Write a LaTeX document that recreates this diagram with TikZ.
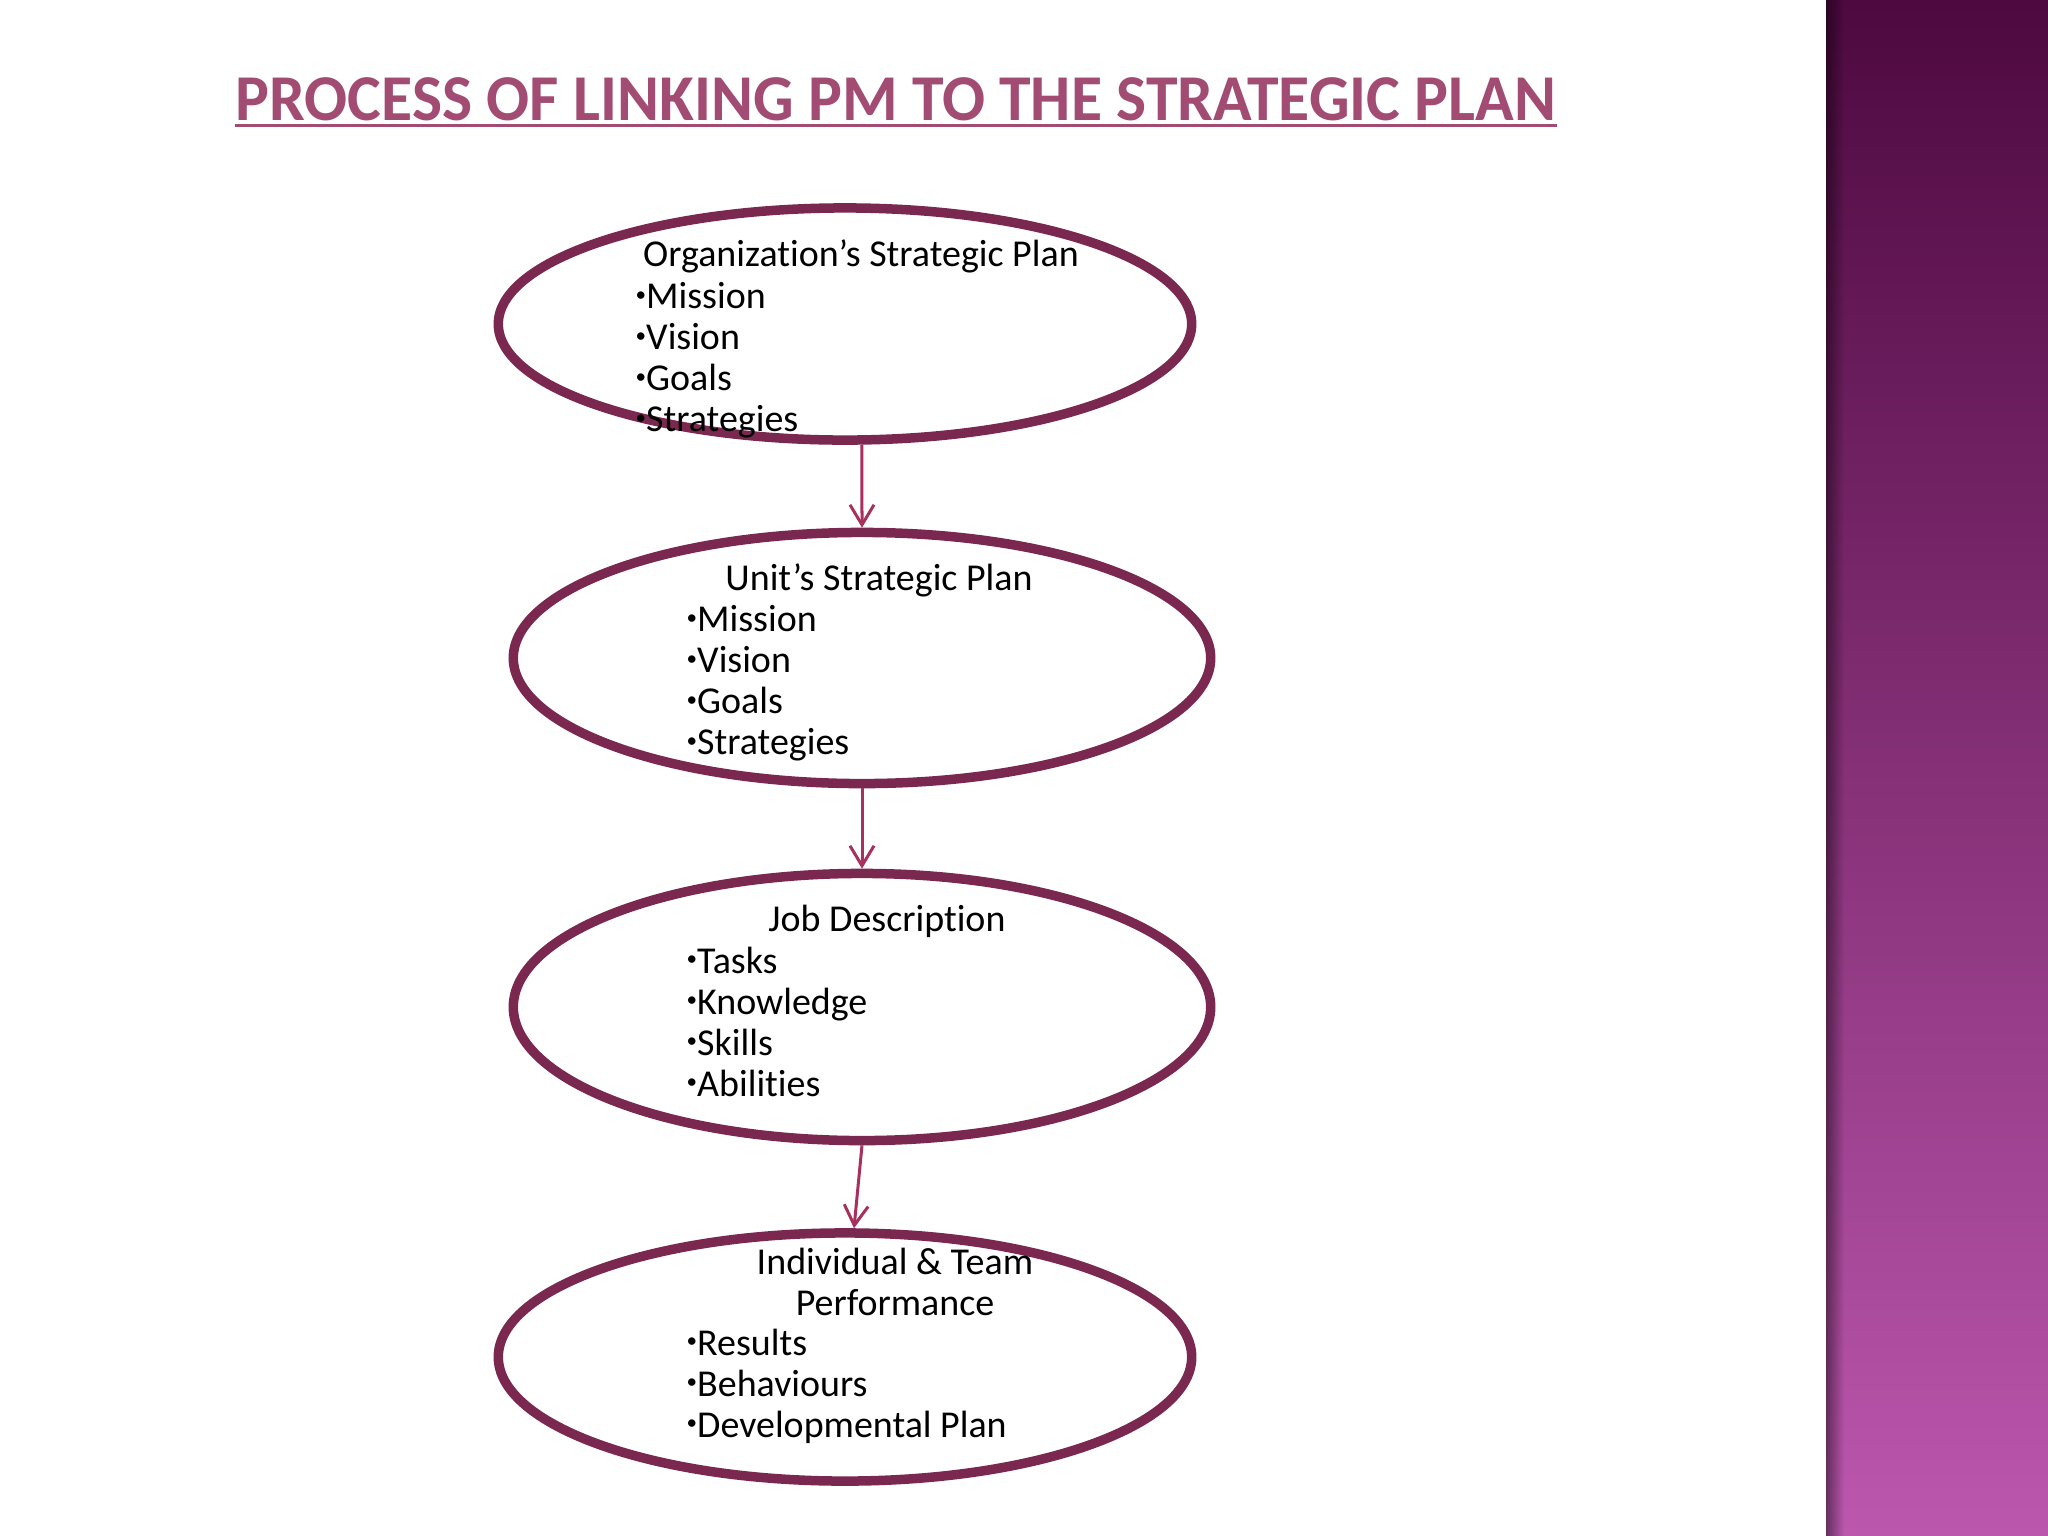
\documentclass[tikz,border=0pt]{standalone}
\usepackage{fontspec}
\setmainfont{Carlito}[Ligatures=NoCommon]
\usetikzlibrary{shapes.geometric,arrows.meta,fadings}
\definecolor{plum}{HTML}{7B2850}
\definecolor{rose}{HTML}{A24C73}
\definecolor{linkred}{HTML}{A8305F}
\definecolor{bartop}{HTML}{4E0940}
\definecolor{barmid}{HTML}{8A3C80}
\definecolor{barbot}{HTML}{BC57AE}
\tikzfading[name=fadeleft,left color=transparent!0,right color=transparent!100]
\newcommand\dotmark{\raisebox{0.2em}{\fontsize{6pt}{6pt}\selectfont•}}

\begin{document}
\begin{tikzpicture}[x=0.01cm,y=-0.01cm,align=left,
	oval/.style={ellipse,draw=plum,line width=0.095cm},
	head/.style={inner sep=0pt,anchor=base,align=center,font=\fontsize{10.8pt}{11.67pt}\selectfont},
	items/.style={inner sep=0pt,anchor=north west,font=\fontsize{10.8pt}{11.67pt}\selectfont},
	link/.style={draw=linkred,line width=0.03cm,-{Straight Barb[length=0.2cm,width=0.24cm]}}]
\useasboundingbox[fill=white](0,0) rectangle (2048,1536);
\shade[top color=bartop,middle color=barmid,bottom color=barbot](1826,0) rectangle (2048,1536);
\fill[black,opacity=0.45,path fading=fadeleft](1826,0) rectangle (1844,1536);
\node[inner sep=0pt,anchor=base west,text=rose,font=\fontsize{18.6pt}{20pt}\selectfont\bfseries](title) at (235,120){\scalebox{0.974}[1]{PROCESS OF LINKING PM TO THE STRATEGIC PLAN}};
\draw[rose,line width=0.035cm]([yshift=-0.055cm]title.base west) -- ([yshift=-0.055cm]title.base east);
\node[oval,minimum width=6.93cm,minimum height=2.32cm](org) at (845,324){};
\node[oval,minimum width=6.97cm,minimum height=2.51cm](unit) at (862,658){};
\node[oval,minimum width=6.97cm,minimum height=2.67cm](job) at (862,1007){};
\node[oval,minimum width=6.93cm,minimum height=2.48cm](indiv) at (845,1357){};
\node[head](orghead) at (861,266){Organization’s Strategic Plan};
\node[items](orglist) at (635,282){\dotmark Mission \\ \dotmark Vision \\ \dotmark Goals \\ \dotmark Strategies};
\node[head](unithead) at (879,590){Unit’s Strategic Plan};
\node[items](unitlist) at (686,605){\dotmark Mission \\ \dotmark Vision \\ \dotmark Goals \\ \dotmark Strategies};
\node[head](jobhead) at (887,931){Job Description};
\node[items](joblist) at (686,946){\dotmark Tasks \\ \dotmark Knowledge \\ \dotmark Skills \\ \dotmark Abilities};
\node[head,anchor=north](indivhead) at (895,1247){Individual \& Team \\ Performance};
\node[items](indivlist) at (686,1328){\dotmark Results \\ \dotmark Behaviours \\ \dotmark Developmental Plan};
\draw[link](org.-82) -- (unit.north);
\draw[link](unit.south) -- (job.north);
\draw[link](job.south) -- (indiv.86);
\end{tikzpicture}
\end{document}
